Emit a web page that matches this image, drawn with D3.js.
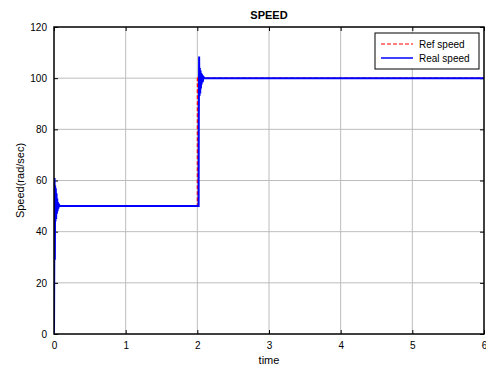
<!DOCTYPE html>
<html><head><meta charset="utf-8">
<script src="https://cdn.jsdelivr.net/npm/d3@7"></script>
<style>body{margin:0;background:#fff}svg{display:block;font-family:"Liberation Sans",Arial,sans-serif}</style>
</head><body><svg id="c" width="486" height="370"></svg>
<script>
const title = "SPEED";
const xLabel = "time";
const yLabel = "Speed(rad/sec)";
const xTicks = [0,1,2,3,4,5,6];
const yTicks = [0,20,40,60,80,100,120];
const seriesNames = ["Ref speed","Real speed"];
const refTime  = [0, 0.0005, 2.0, 2.0005, 6];
const refSpeed = [0, 50, 50, 100, 100];
const realTime  = [0, 0.008, 0.012, 0.016, 0.02, 0.025, 0.03, 0.035, 0.04, 0.045, 0.05, 0.055, 0.06, 0.07, 0.08, 0.1,
                   2.0, 2.018, 2.02, 2.025, 2.03, 2.035, 2.04, 2.045, 2.05, 2.055, 2.06, 2.065, 2.075, 2.085, 2.1, 6];
const realSpeed = [0, 61, 29, 58, 44, 57, 45, 55, 47, 53, 48, 51.5, 49, 50.5, 50, 50,
                   50, 50, 82, 108.5, 93, 104, 94, 103, 96, 102, 97.5, 101.5, 98.5, 100.5, 100, 100];

const svg = d3.select("#c");
const m = {l:54, r:484, t:27, b:334};
const x = d3.scaleLinear().domain([0,6]).range([m.l, m.r]);
const y = d3.scaleLinear().domain([0,120]).range([m.b, m.t]);

// grid
svg.append("g").selectAll("line").data(xTicks.slice(1,-1)).join("line")
  .attr("x1",d=>x(d)).attr("x2",d=>x(d)).attr("y1",m.t).attr("y2",m.b)
  .attr("stroke","#bdbdbd").attr("stroke-width",1);
svg.append("g").selectAll("line").data(yTicks.slice(1,-1)).join("line")
  .attr("y1",d=>y(d)).attr("y2",d=>y(d)).attr("x1",m.l).attr("x2",m.r)
  .attr("stroke","#bdbdbd").attr("stroke-width",1);

// axes
const fs = 10;
const xa = svg.append("g").attr("transform",`translate(0,${m.b})`)
  .call(d3.axisBottom(x).tickValues(xTicks).tickFormat(d3.format("d")).tickSizeInner(-4).tickSizeOuter(0).tickPadding(8));
const xt = svg.append("g").attr("transform",`translate(0,${m.t})`)
  .call(d3.axisTop(x).tickValues(xTicks).tickSizeInner(-4).tickSizeOuter(0).tickFormat(""));
const ya = svg.append("g").attr("transform",`translate(${m.l},0)`)
  .call(d3.axisLeft(y).tickValues(yTicks).tickFormat(d3.format("d")).tickSizeInner(-4).tickSizeOuter(0).tickPadding(7));
const yr = svg.append("g").attr("transform",`translate(${m.r},0)`)
  .call(d3.axisRight(y).tickValues(yTicks).tickSizeInner(-4).tickSizeOuter(0).tickFormat(""));
[xa,xt,ya,yr].forEach(g=>{
  g.select(".domain").remove();
  g.selectAll("line").attr("stroke","#000");
  g.selectAll("text").attr("font-size",fs).attr("fill","#000").attr("font-family","Liberation Sans, Arial, sans-serif");
});

// clip
svg.append("clipPath").attr("id","clip").append("rect")
  .attr("x",m.l).attr("y",m.t).attr("width",m.r-m.l).attr("height",m.b-m.t);

const line = d3.line().x(d=>x(d[0])).y(d=>y(d[1]));
svg.append("path").datum(refTime.map((t,i)=>[t,refSpeed[i]]))
  .attr("d",line).attr("fill","none").attr("stroke","#ff0000").attr("stroke-width",1.2)
  .attr("stroke-dasharray","4,2").attr("clip-path","url(#clip)");
svg.append("path").datum(realTime.map((t,i)=>[t,realSpeed[i]]))
  .attr("d",line).attr("fill","none").attr("stroke","#0000ff").attr("stroke-width",2)
  .attr("clip-path","url(#clip)");

// box
svg.append("rect").attr("x",m.l).attr("y",m.t).attr("width",m.r-m.l).attr("height",m.b-m.t)
  .attr("fill","none").attr("stroke","#000").attr("stroke-width",1.5);

// labels
svg.append("text").attr("x",(m.l+m.r)/2).attr("y",19).attr("text-anchor","middle")
  .attr("font-size",11).attr("font-weight","bold").text(title);
svg.append("text").attr("x",(m.l+m.r)/2).attr("y",364).attr("text-anchor","middle")
  .attr("font-size",11).text(xLabel);
svg.append("text").attr("transform",`translate(24,${(m.t+m.b)/2}) rotate(-90)`).attr("text-anchor","middle")
  .attr("font-size",11).text(yLabel);

// legend
const lg = svg.append("g");
lg.append("rect").attr("x",375).attr("y",33).attr("width",104).attr("height",36)
  .attr("fill","#fff").attr("stroke","#000").attr("stroke-width",1);
const colors = ["#ff0000","#0000ff"];
const dashes = ["4,2",null];
seriesNames.forEach((n,i)=>{
  const yy = 44 + i*14;
  lg.append("line").attr("x1",381).attr("x2",413).attr("y1",yy).attr("y2",yy)
    .attr("stroke",colors[i]).attr("stroke-width",i?1.5:1.2).attr("stroke-dasharray",dashes[i]);
  lg.append("text").attr("x",419).attr("y",yy+3.5).attr("font-size",10).text(n);
});
</script></body></html>
